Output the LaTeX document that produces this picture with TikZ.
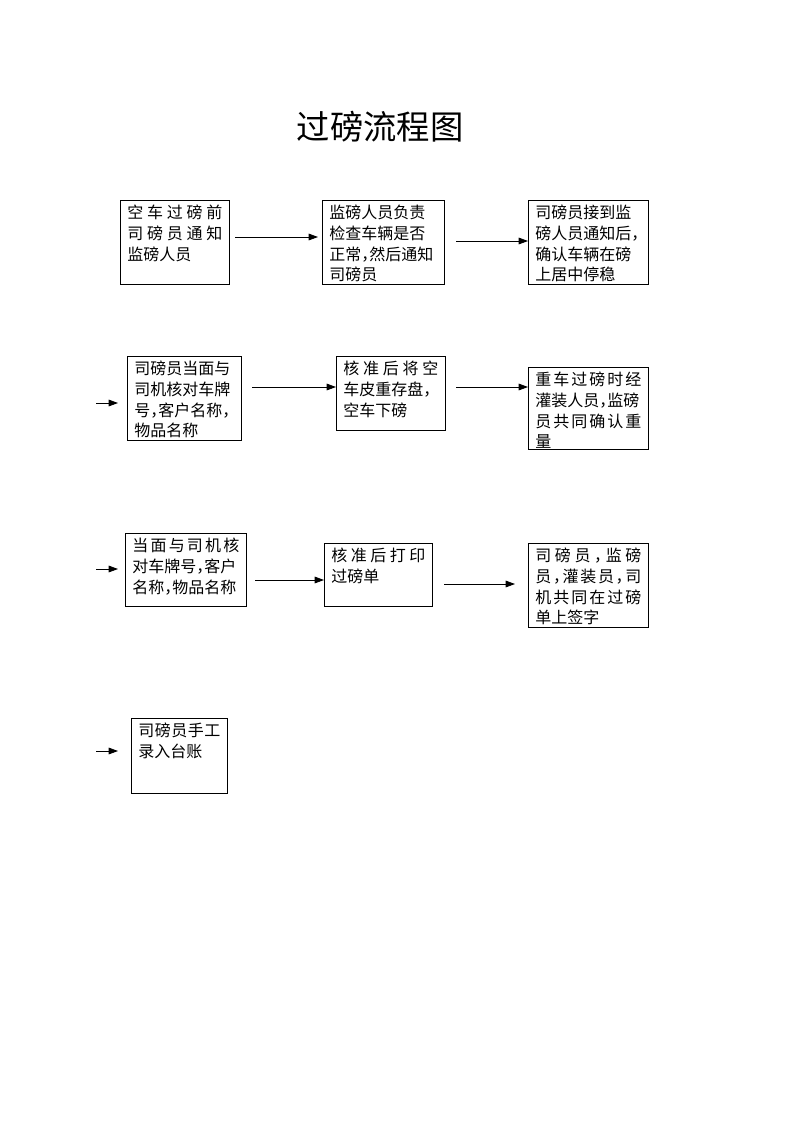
\documentclass[tikz,border=0pt]{standalone}
\usepackage{fontspec}
\newfontfamily\cjk{Noto Sans CJK SC}
\usetikzlibrary{arrows.meta}
\tikzset{
x=0.75pt,y=-0.75pt,
>={Triangle[length=7pt,width=5pt]},
box/.style={draw,line width=0.6pt,anchor=north west,inner xsep=5.25pt,inner ysep=3.6pt,
            font=\cjk\fontsize{12}{15.5}\selectfont},
arr/.style={->,line width=0.6pt}
}
% text area of a box, top aligned
\newcommand\intext[3]{\parbox[t][#2][t]{#1}{#3}}
% a line spread over the whole width
\def\jlloop#1{\ifx\relax#1\else#1\hfil\expandafter\jlloop\fi}
\newcommand\justline[1]{\makebox[\linewidth][s]{\jlloop#1\relax\unskip}}
\newcommand\hc{\makebox[.5em][l]{，}}

\begin{document}
\begin{tikzpicture}
\useasboundingbox (0,0) rectangle (793,1122);

\node[font=\cjk\fontsize{25}{30}\selectfont] (title) at (380,127) {过磅流程图};

% row 1
\node[box] (A) at (120,200) {\intext{71.25pt}{55.8pt}{\justline{空车过磅前}\\ \justline{司磅员通知}\\ 监磅人员}};
\node[box] (B) at (322,200) {\intext{81pt}{55.8pt}{监磅人员负责\\ 检查车辆是否\\ 正常\hc 然后通知\\ 司磅员}};
\node[box] (C) at (528,200) {\intext{79.5pt}{55.8pt}{司磅员接到监\\ 磅人员通知后\hc\\ 确认车辆在磅\\ 上居中停稳}};

% row 2
\node[box] (D) at (127,356) {\intext{75pt}{55.8pt}{司磅员当面与\\ 司机核对车牌\\ 号\hc 客户名称\hc\\ 物品名称}};
\node[box] (E) at (336,356) {\intext{71.25pt}{48.3pt}{\justline{核准后将空}\\ 车皮重存盘\hc\\ 空车下磅}};
\node[box] (F) at (528,367) {\intext{79.5pt}{54.3pt}{\justline{重车过磅时经}\\ 灌装人员\hc 监磅\\ \justline{员共同确认重}\\ 量}};

% row 3
\node[box] (G) at (125,533) {\intext{80.25pt}{47.55pt}{\justline{当面与司机核}\\ 对车牌号\hc 客户\\ 名称\hc 物品名称}};
\node[box] (H) at (324,543) {\intext{70.5pt}{40.05pt}{\justline{核准后打印}\\ 过磅单}};
\node[box] (I) at (528,543) {\intext{79.5pt}{55.8pt}{\justline{司磅员\hc 监磅}\\ \justline{员\hc 灌装员\hc 司}\\ \justline{机共同在过磅}\\ 单上签字}};

% row 4
\node[box] (J) at (131,718) {\intext{61.5pt}{49.05pt}{\justline{司磅员手工}\\ 录入台账}};

% arrow ends
\coordinate (a1) at (235,237);  \coordinate (a1e) at (318,237);
\coordinate (a2) at (456,241);
\coordinate (b0) at (96,403);   \coordinate (b0e) at (118,403);
\coordinate (b1) at (252,387);
\coordinate (b2) at (456,387);
\coordinate (c0) at (96,569);   \coordinate (c0e) at (118,569);
\coordinate (c1) at (255,580);
\coordinate (c2) at (444,584);  \coordinate (c2e) at (515,584);
\coordinate (d0) at (96,751);   \coordinate (d0e) at (118,751);

\draw[arr] (a1) -- (a1e);
\draw[arr] (a2) -- (a2 -| C.west);
\draw[arr] (b0) -- (b0e);
\draw[arr] (b1) -- (b1 -| E.west);
\draw[arr] (b2) -- (b2 -| F.west);
\draw[arr] (c0) -- (c0e);
\draw[arr] (c1) -- (c1 -| H.west);
\draw[arr] (c2) -- (c2e);
\draw[arr] (d0) -- (d0e);
\end{tikzpicture}
\end{document}
